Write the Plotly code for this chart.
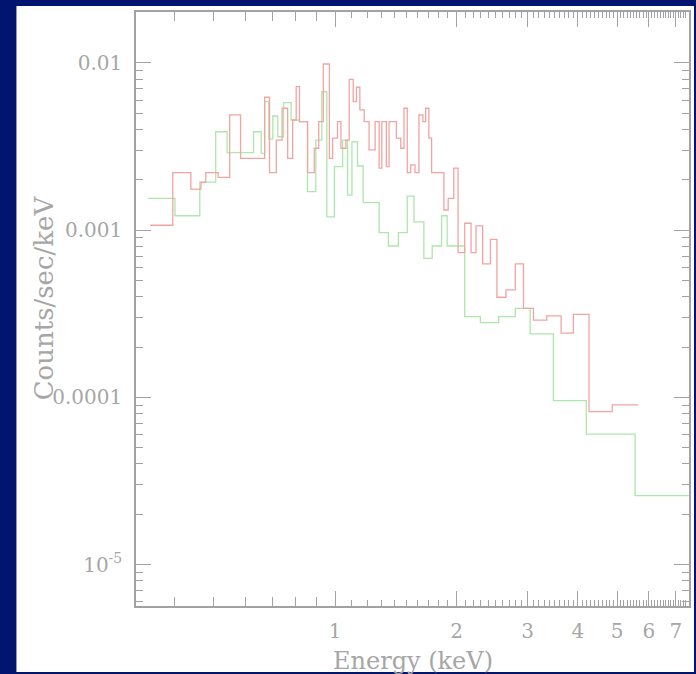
import numpy as np
import plotly.graph_objects as go

# Spectrum 1 (red): bin edges in keV and count rates in counts/sec/keV
red_edges = [0.348, 0.396, 0.439, 0.465, 0.478, 0.513, 0.548, 0.583, 0.669, 0.688,
             0.715, 0.739, 0.763, 0.785, 0.801, 0.816, 0.855, 0.888, 0.911, 0.935,
             0.968, 0.986, 1.014, 1.034, 1.064, 1.084, 1.109, 1.130, 1.152, 1.181,
             1.214, 1.257, 1.286, 1.306, 1.340, 1.361, 1.419, 1.455, 1.482, 1.510,
             1.540, 1.578, 1.614, 1.651, 1.677, 1.708, 1.735, 1.861, 1.907, 1.969,
             2.018, 2.096, 2.173, 2.236, 2.322, 2.427, 2.519, 2.652, 2.797, 2.932,
             3.103, 3.347, 3.634, 3.896, 4.261, 4.863, 5.638]
red_rate = [1.07e-3, 2.21e-3, 1.76e-3, 1.93e-3, 2.21e-3, 2.07e-3, 4.89e-3, 2.69e-3, 6.24e-3, 2.21e-3,
            3.46e-3, 5.36e-3, 2.69e-3, 4.56e-3, 7.22e-3, 4.46e-3, 2.21e-3, 3.09e-3, 4.46e-3, 9.86e-3,
            2.69e-3, 3.55e-3, 4.46e-3, 3.09e-3, 3.46e-3, 7.99e-3, 5.87e-3, 7.16e-3, 5.24e-3, 4.46e-3,
            3.02e-3, 4.46e-3, 2.35e-3, 4.46e-3, 2.40e-3, 4.46e-3, 3.55e-3, 3.09e-3, 5.36e-3, 2.21e-3,
            2.46e-3, 2.21e-3, 4.89e-3, 4.46e-3, 5.36e-3, 3.55e-3, 2.21e-3, 1.32e-3, 1.55e-3, 2.35e-3,
            7.34e-4, 1.10e-3, 7.34e-4, 1.06e-3, 6.28e-4, 8.82e-4, 3.97e-4, 4.39e-4, 6.28e-4, 3.41e-4,
            2.90e-4, 3.07e-4, 2.42e-4, 3.14e-4, 8.21e-5, 9.01e-5]

# Spectrum 2 (green)
green_edges = [0.344, 0.401, 0.462, 0.506, 0.540, 0.628, 0.656, 0.669, 0.685, 0.701,
               0.721, 0.745, 0.778, 0.816, 0.854, 0.896, 0.927, 0.954, 0.996, 1.044,
               1.074, 1.101, 1.137, 1.174, 1.286, 1.356, 1.435, 1.510, 1.569, 1.660,
               1.741, 1.837, 1.896, 2.096, 2.292, 2.544, 2.797, 3.045, 3.477, 4.196,
               5.543, 7.534]
green_rate = [1.55e-3, 1.22e-3, 1.94e-3, 3.88e-3, 2.91e-3, 3.88e-3, 2.88e-3, 5.87e-3, 3.50e-3, 4.82e-3,
              3.62e-3, 5.79e-3, 4.56e-3, 4.46e-3, 1.70e-3, 3.46e-3, 6.73e-3, 1.20e-3, 2.40e-3, 3.46e-3,
              1.62e-3, 3.38e-3, 2.42e-3, 1.46e-3, 9.66e-4, 8.04e-4, 9.66e-4, 1.60e-3, 1.12e-3, 6.79e-4,
              8.04e-4, 1.22e-3, 8.04e-4, 3.04e-4, 2.80e-4, 3.04e-4, 3.41e-4, 2.40e-4, 9.56e-5, 6.02e-5,
              2.58e-5]

# Axis labelling
x_major = [1, 2, 3, 4, 5, 6, 7]
x_major_text = ["1", "2", "3", "4", "5", "6", "7"]
y_major = [1e-2, 1e-3, 1e-4, 1e-5]
y_major_text = ["0.01", "0.001", "0.0001", "10<sup>-5</sup>"]

NAVY = "#011470"
GREY = "#a2a2a2"
TEXT = "#a6a6a6"
FONT = "DejaVu Serif"

X_RANGE = [np.log10(0.321), np.log10(7.54)]
Y_RANGE = [-5.248, -1.695]


def step_xy(edges, rates):
    return list(edges), list(rates) + [rates[-1]]


fig = go.Figure()
gx, gy = step_xy(green_edges, green_rate)
rx, ry = step_xy(red_edges, red_rate)
fig.add_trace(go.Scatter(x=gx, y=gy, mode="lines", line=dict(shape="hv", color="#abe8ab", width=1.3),
                         hoverinfo="skip", showlegend=False))
fig.add_trace(go.Scatter(x=rx, y=ry, mode="lines", line=dict(shape="hv", color="#f4a3a3", width=1.3),
                         hoverinfo="skip", showlegend=False))

x_fine = [round(v, 1) for v in np.arange(1.1, 7.55, 0.1) if abs(v - round(v)) > 1e-6]
x_mid = [0.4, 0.5, 0.6, 0.7, 0.8, 0.9]
y_minor = [k * 10.0 ** n for n in range(-6, -1) for k in range(2, 10)]

L, R, T, B = 136, 5, 12, 68
W, H = 696, 674
pw, ph = W - L - R, H - T - B


def px_to_paper(px, py):
    return (px - L) / pw, (H - B - py) / ph


x0, y1 = px_to_paper(16, 6)
x1, y0 = px_to_paper(696, 672)

fig.update_layout(
    width=W, height=H,
    margin=dict(l=L, r=R, t=T, b=B, pad=0),
    paper_bgcolor=NAVY,
    plot_bgcolor="white",
    shapes=[dict(type="rect", xref="paper", yref="paper", x0=x0, x1=x1, y0=y0, y1=y1,
                 fillcolor="white", line=dict(width=0), layer="below")],
    xaxis=dict(type="log", range=X_RANGE, tickvals=x_major, ticktext=x_major_text,
               ticks="inside", ticklen=15, tickwidth=1, tickcolor=GREY,
               showline=True, linecolor=GREY, linewidth=1.5, mirror="ticks",
               showgrid=False, zeroline=False, ticklabelstandoff=6,
               tickfont=dict(family=FONT, size=20, color=TEXT),
               minor=dict(tickvals=x_fine, ticks="inside", ticklen=6, tickcolor=GREY, tickwidth=1,
                          showgrid=False)),
    xaxis2=dict(type="log", range=X_RANGE, overlaying="x", anchor="y", side="bottom",
                tickvals=x_mid, ticks="inside", ticklen=9, tickwidth=1, tickcolor=GREY,
                showticklabels=False, showline=True, linecolor=GREY, linewidth=1.5,
                mirror="ticks", showgrid=False, zeroline=False),
    yaxis=dict(type="log", range=Y_RANGE, tickvals=y_major, ticktext=y_major_text,
               ticks="inside", ticklen=15, tickwidth=1, tickcolor=GREY,
               showline=True, linecolor=GREY, linewidth=1.5, mirror="ticks",
               showgrid=False, zeroline=False, ticklabelstandoff=8,
               tickfont=dict(family=FONT, size=20, color=TEXT),
               minor=dict(tickvals=y_minor, ticks="inside", ticklen=7, tickcolor=GREY, tickwidth=1,
                          showgrid=False)),
    annotations=[
        dict(text="Energy (keV)", xref="paper", yref="paper", x=0.5, y=px_to_paper(0, 661)[1],
             xanchor="center", yanchor="middle", showarrow=False,
             font=dict(family=FONT, size=24, color=TEXT)),
        dict(text="Counts/sec/keV", xref="paper", yref="paper", x=px_to_paper(44, 0)[0],
             y=px_to_paper(0, 298)[1], xanchor="center", yanchor="middle", textangle=-90,
             showarrow=False, font=dict(family=FONT, size=26, color=TEXT)),
    ],
)
fig.add_trace(go.Scatter(x=[1], y=[1e-3], xaxis="x2", mode="markers", marker=dict(opacity=0),
                         hoverinfo="skip", showlegend=False))

fig.write_html("out.html")
